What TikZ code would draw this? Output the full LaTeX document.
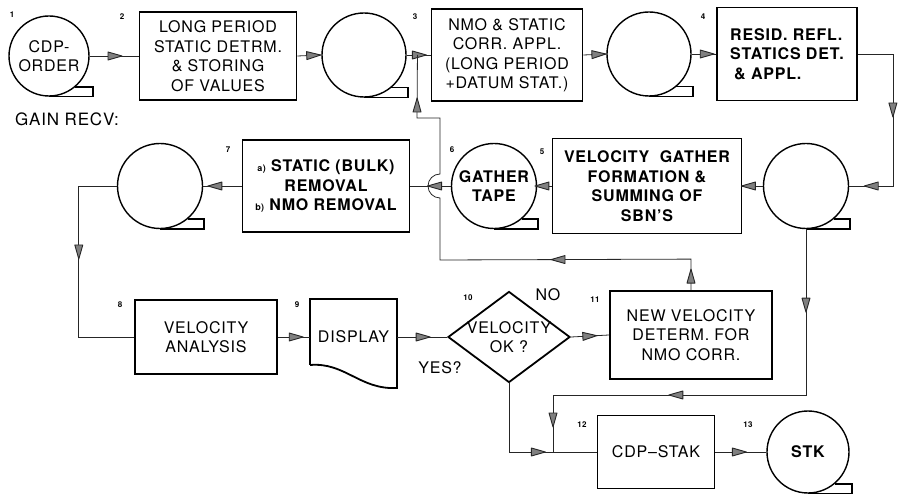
\documentclass[tikz,border=0pt]{standalone}
\usepackage{fontspec}
\setmainfont{TeX Gyre Heros}[LetterSpace=5]
\usetikzlibrary{arrows.meta,shapes.geometric,decorations.markings,calc}

\tikzset{
  box/.style={draw, line width=1.8pt, align=center, inner sep=0pt},
  tape/.style={draw, circle, line width=1.4pt, minimum size=84pt, inner sep=0pt, align=center},
  reelend/.style={line width=1.4pt},
  flow/.style={line width=0.8pt, draw=black!85},
  midtip/.style={postaction={decorate, decoration={markings,
      mark=at position #1 with {\draw[fill=black!50, line width=0.9pt, line join=round]
        (3pt,0pt) -- (-11pt,4pt) -- (-11pt,-4pt) -- cycle;}}}},
  stepno/.style={font=\bfseries\fontsize{8}{8}\selectfont},
}
% tape reel: circle with a hooked tail at the bottom
\newcommand{\tapetail}[1]{\draw[reelend] (#1.south) -- ++(44,0) |- (#1.-50);}

\begin{document}
\begin{tikzpicture}[x=1pt, y=-1pt, font=\fontsize{16}{19.5}\selectfont]
    \useasboundingbox (0,0) rectangle (898,497);
    % top row
    \node[tape, minimum size=80pt] (t1) at (49,56) {CDP-\\ORDER};
    \tapetail{t1}
    \node[box, minimum width=157pt, minimum height=88pt] (b2) at (218,56)
        {LONG PERIOD\\STATIC DETRM.\\\& STORING\\OF VALUES};
    \node[tape] (t2) at (364,55) {};
    \tapetail{t2}
    \node[box, minimum width=151pt, minimum height=92pt] (b3) at (507,55)
        {NMO \& STATIC\\CORR. APPL.\\(LONG PERIOD\\+DATUM STAT.)};
    \node[tape] (t3) at (649,54) {};
    \tapetail{t3}
    \node[box, minimum width=140pt, minimum height=93pt, align=left, font=\bfseries\fontsize{16}{19.5}\selectfont] (b4) at (787,54)
        {RESID. REFL.\\STATICS DET.\\\hspace{4pt}\& APPL.};
    % middle row
    \node[tape, minimum size=85pt] (tR) at (806,186) {};
    \tapetail{tR}
    \node[box, minimum width=189pt, minimum height=95pt, font=\bfseries\fontsize{16}{19.5}\selectfont] (b5) at (647,186)
        {VELOCITY\ \ GATHER\\FORMATION \&\\SUMMING OF\\SBN’S};
    \node[tape, minimum size=85pt, font=\bfseries\fontsize{16}{19}\selectfont] (tG) at (494,186) {GATHER\\TAPE};
    \tapetail{tG}
    \node[box, minimum width=167pt, minimum height=92pt, font=\bfseries\fontsize{16}{19.5}\selectfont] (b7) at (326,186)
        {{\fontsize{9}{9}\selectfont a)} STATIC (BULK)\\REMOVAL\\{\fontsize{9}{9}\selectfont b)} NMO REMOVAL};
    \node[tape, minimum size=85pt] (tL) at (160,186) {};
    \tapetail{tL}
    % bottom rows
    \node[box, minimum width=142pt, minimum height=74pt] (b8) at (206,337) {VELOCITY\\ANALYSIS};
    \node[minimum width=87pt, inner sep=0pt] (d9) at (353.5,337) {DISPLAY};
    \draw[line width=1.8pt] (310,365) -- (310,299) -- (397,299) -- (397,388)
        .. controls (360,390) and (345,362) .. (310,365);
    \node[diamond, draw, line width=1.8pt, minimum width=122pt, minimum height=91pt, inner sep=0pt] (d10) at (509,337) {};
    \node[align=center] (d10txt) at (d10) {VELOCITY\\OK ?};
    \node[box, minimum width=162pt, minimum height=88pt] (b11) at (691,335)
        {NEW VELOCITY\\DETERM. FOR\\NMO CORR.};
    \node[box, minimum width=117pt, minimum height=73pt] (b12) at (656,452) {CDP--STAK};
    \node[tape, minimum size=82pt, font=\bfseries\fontsize{16}{19}\selectfont] (t13) at (808,452) {STK};
    \tapetail{t13}
    % labels
    \node[font=\fontsize{17}{19}\selectfont] (gain) at (67,119) {GAIN RECV:};
    \node (no) at (548,295) {NO};
    \node (yes) at (440,368) {YES?};
    \node[stepno] (n1) at (12,15) {1};
    \node[stepno] (n2) at (122,17) {2};
    \node[stepno] (n3) at (415,17) {3};
    \node[stepno] (n4) at (703,17) {4};
    \node[stepno] (n5) at (542,152) {5};
    \node[stepno] (n6) at (452,150) {6};
    \node[stepno] (n7) at (228,150) {7};
    \node[stepno] (n8) at (120,305) {8};
    \node[stepno] (n9) at (297,305) {9};
    \node[stepno] (n10) at (468,298) {10};
    \node[stepno] (n11) at (595,300) {11};
    \node[stepno] (n12) at (582,425) {12};
    \node[stepno] (n13) at (748,425) {13};
    % connectors
    \coordinate (j3) at ($(t2.east)!0.45!(b3.west)$);
    \coordinate (j12) at (553,452);
    \draw[flow, midtip=0.6] (t1.east) -- (b2.west);
    \draw[flow, midtip=0.85] (b2.east) -- (t2.west);
    \draw[flow, midtip=0.7] (t2.east) -- (b3.west);
    \draw[flow, midtip=0.85] (b3.east) -- (t3.west);
    \draw[flow, midtip=0.8] (t3.east) -- (b4.west);
    \draw[flow, midtip=95pt, midtip=-18pt] (b4.east) -- ++(35,0) |- (tR.east);
    \draw[flow, midtip=0.9] (tR.west) -- (b5.east);
    \draw[flow, midtip=0.95] (b5.west) -- (tG.east);
    \draw[flow, midtip=0.5] (tG.west) -- (b7.east);
    \draw[flow, midtip=0.8] (b7.west) -- (tL.east);
    \draw[flow, midtip=108pt] (tL.west) -- ++(-38,0) |- (b8.west);
    \draw[flow, midtip=0.7] (b8.east) -- (d9.west);
    \draw[flow, midtip=0.6] (d9.east) -- (d10.west);
    \draw[flow, midtip=0.6] (d10.east) -- (b11.west);
    \draw[flow, midtip=102pt] (d10.south) |- (b12.west);
    \draw[flow, midtip=80pt, midtip=300pt, midtip=-28pt] (tR.south) |- (553,395) -- (j12);
    \draw[flow, midtip=0.55] (b12.east) -- (t13.west);
    % feedback from step 11 back to step 3, hopping over the line 6 -> 7
    \draw[flow, midtip=18pt, midtip=168pt, midtip=-46pt] (b11.north) -- ++(0,-31) -- (440,260) -- (440,198)
        arc[start angle=90, end angle=270, radius=12] -- (440,118) -- (417,118) -- (j3);
\end{tikzpicture}
\end{document}
